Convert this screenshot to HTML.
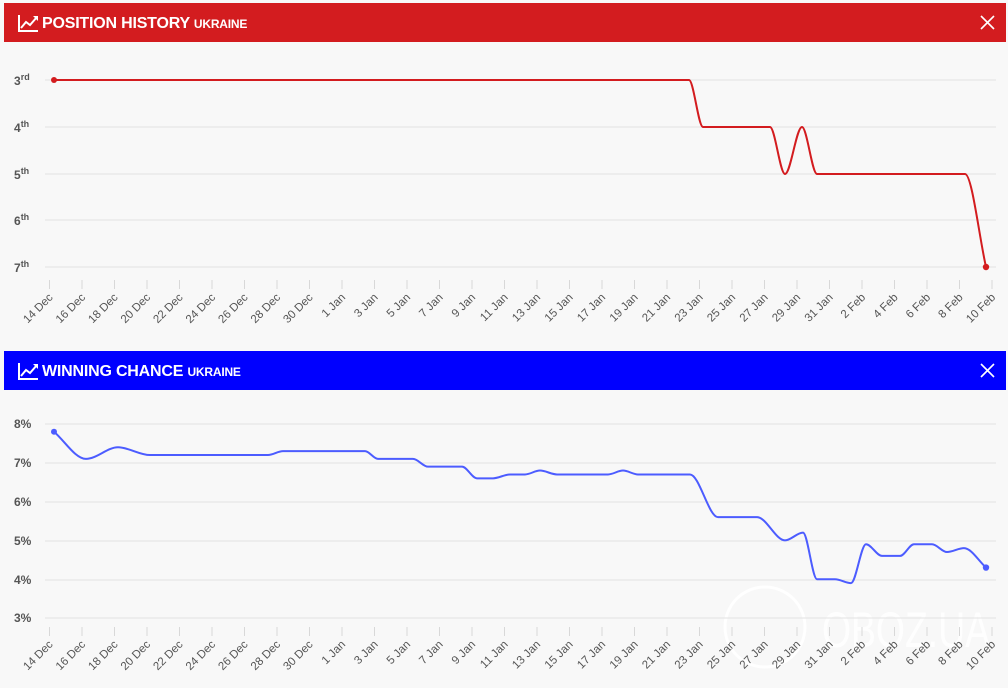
<!DOCTYPE html>
<html><head><meta charset="utf-8"><style>
body{margin:0;width:1008px;height:688px;background:#f8f8f8;font-family:"Liberation Sans",sans-serif;overflow:hidden;position:relative}
.hdr{position:absolute;left:4px;width:1002px;height:39px;color:#fff}
.hdr .t{position:absolute;left:38px;top:12px;font-size:16px;font-weight:bold;letter-spacing:-0.2px}
.hdr .t small{font-size:12px}
svg{position:absolute;left:0;top:0}
</style></head><body>
<div class="hdr" style="top:3px;background:#d31c1f"><svg width="40" height="39" style="left:12px"><path d="M2 28H22M3 12V28M5 25l5-6 4 3 7-8" stroke="#fff" stroke-width="2" fill="none"/><path d="M17 13h5v5z" fill="#fff"/></svg><div class="t">POSITION HISTORY <small>UKRAINE</small></div><svg width="30" height="39" style="left:970px"><path d="M7 13l13 13M20 13L7 26" stroke="#fff" stroke-width="1.6"/></svg></div>
<div class="hdr" style="top:351px;background:#0000ff"><svg width="40" height="39" style="left:12px"><path d="M2 28H22M3 12V28M5 25l5-6 4 3 7-8" stroke="#fff" stroke-width="2" fill="none"/><path d="M17 13h5v5z" fill="#fff"/></svg><div class="t">WINNING CHANCE <small>UKRAINE</small></div><svg width="30" height="39" style="left:970px"><path d="M7 13l13 13M20 13L7 26" stroke="#fff" stroke-width="1.6"/></svg></div>
<svg id="s" width="1008" height="688" style="pointer-events:none"></svg>
<script>
var s=document.getElementById('s'),h='';
function mono(P){var n=P.length,d=[],m=[];for(var i=0;i<n-1;i++)d.push((P[i+1][1]-P[i][1])/(P[i+1][0]-P[i][0]));
for(i=0;i<n;i++){if(i==0)m.push(d[0]);else if(i==n-1)m.push(d[n-2]);else if(d[i-1]*d[i]<=0)m.push(0);else{var h0=P[i][0]-P[i-1][0],h1=P[i+1][0]-P[i][0];m.push(3*(h0+h1)/((2*h1+h0)/d[i-1]+(h1+2*h0)/d[i]));}}
var str='M'+P[0][0]+' '+P[0][1];for(i=0;i<n-1;i++){var dx=(P[i+1][0]-P[i][0])/3;str+='C'+(P[i][0]+dx)+' '+(P[i][1]+m[i]*dx)+' '+(P[i+1][0]-dx)+' '+(P[i+1][1]-m[i+1]*dx)+' '+P[i+1][0]+' '+P[i+1][1];}return str;}
var labs=[];var ds=[14,16,18,20,22,24,26,28,30];ds.forEach(function(d){labs.push(d+' Dec')});for(var d=1;d<=31;d+=2)labs.push(d+' Jan');[2,4,6,8,10].forEach(function(d){labs.push(d+' Feb')});
function axis(gy,ty,ly){gy.forEach(function(y){h+='<line x1="45" x2="996" y1="'+y+'" y2="'+y+'" stroke="#e2e2e2"/>';});
labs.forEach(function(l,i){var x=49.5+32.5*i;h+='<line x1="'+x+'" x2="'+x+'" y1="'+ty+'" y2="'+(ty+9)+'" stroke="#d8d8d8"/>';h+='<text transform="translate('+(x+4)+','+(ly+1)+') rotate(-45)" text-anchor="end" font-size="11.5" fill="#555">'+l+'</text>';});}
axis([80,127,174,220,267],280,297);
var ord=['3<tspan dy="-5" font-size="9">rd</tspan>','4<tspan dy="-5" font-size="9">th</tspan>','5<tspan dy="-5" font-size="9">th</tspan>','6<tspan dy="-5" font-size="9">th</tspan>','7<tspan dy="-5" font-size="9">th</tspan>'];
[80,127,174,220,267].forEach(function(y,i){h+='<text x="14" y="'+(y+5)+'" font-size="12" font-weight="bold" fill="#555">'+ord[i]+'</text>';});
var R=[[54,80],[689,80],[703,127],[770,127],[785,174],[802,127],[817,174],[965,174],[986,267]];
h+='<path d="'+mono(R)+'" stroke="#d31c1f" stroke-width="2" fill="none"/><circle cx="54" cy="80" r="3" fill="#d31c1f"/><circle cx="986" cy="267" r="3.2" fill="#d31c1f"/>';
var G=[424,463,502,541,580,618];
h+='<circle cx="765" cy="627" r="40" fill="none" stroke="#fff" stroke-width="3" opacity=".9"/><text x="822" y="647" font-size="50" font-family="Liberation Sans Narrow,Liberation Sans,sans-serif" fill="#fff" opacity=".9" textLength="168" lengthAdjust="spacingAndGlyphs">OBOZ.UA</text>';
axis(G,627,644);
['8%','7%','6%','5%','4%','3%'].forEach(function(t,i){h+='<text x="14" y="'+(G[i]+4)+'" font-size="12" font-weight="bold" fill="#555">'+t+'</text>';});
function py(v){return 424+(8-v)*38.8;}
var B=[[54,7.8],[86,7.1],[118,7.4],[150,7.2],[268,7.2],[283,7.3],[365,7.3],[378,7.1],[413,7.1],[428,6.9],[462,6.9],[477,6.6],[493,6.6],[510,6.7],[525,6.7],[540,6.8],[557,6.7],[608,6.7],[623,6.8],[638,6.7],[690,6.7],[718,5.6],[757,5.6],[785,5.0],[803,5.2],[817,4.0],[835,4.0],[851,3.9],[866,4.9],[882,4.6],[900,4.6],[914,4.9],[932,4.9],[947,4.7],[964,4.8],[986,4.3]].map(function(p){return [p[0],py(p[1])];});
h+='<path d="'+mono(B)+'" stroke="#4c5cff" stroke-width="2" fill="none"/><circle cx="54" cy="'+py(7.8)+'" r="3" fill="#4c5cff"/><circle cx="986" cy="'+py(4.3)+'" r="3.2" fill="#4c5cff"/>';
s.innerHTML=h;
</script>
</body></html>
